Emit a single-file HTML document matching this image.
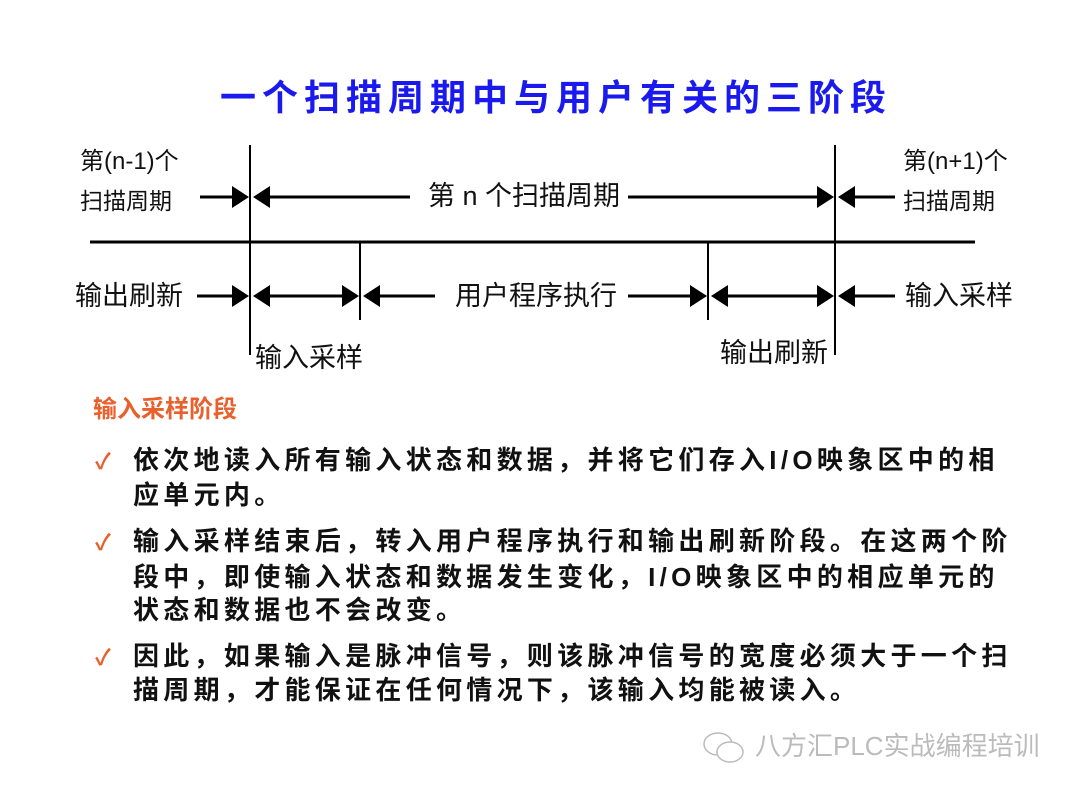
<!DOCTYPE html>
<html><head><meta charset="utf-8"><style>
body{margin:0;width:1080px;height:797px;background:#fff;position:relative;overflow:hidden;font-family:"Liberation Sans","Noto Sans CJK SC",sans-serif}
.t{position:absolute;white-space:nowrap;line-height:1}
.d{font-size:27px;color:#111}
.b{font-size:26px;font-weight:bold;color:#111;letter-spacing:4.3px}
.ck{position:absolute;color:#e8602c;font-size:22px;font-weight:bold}
</style></head><body>
<div class="t" style="left:220px;top:80px;font-size:36px;font-weight:bold;color:#1a1aee;letter-spacing:6px">一个扫描周期中与用户有关的三阶段</div>
<svg width="1080" height="400" style="position:absolute;left:0;top:0">
<g stroke="#000" stroke-width="2">
<line x1="250" y1="145" x2="250" y2="355"/>
<line x1="835" y1="145" x2="835" y2="355"/>
<line x1="360" y1="242" x2="360" y2="320"/>
<line x1="708" y1="242" x2="708" y2="320"/>
</g>
<line x1="90" y1="242" x2="975" y2="242" stroke="#000" stroke-width="3"/>
<g stroke="#000" stroke-width="3">
<line x1="200" y1="197" x2="240" y2="197"/><line x1="260" y1="197" x2="410" y2="197"/>
<line x1="628" y1="197" x2="825" y2="197"/><line x1="845" y1="197" x2="895" y2="197"/>
<line x1="197" y1="296" x2="240" y2="296"/><line x1="260" y1="296" x2="350" y2="296"/>
<line x1="370" y1="296" x2="435" y2="296"/>
<line x1="628" y1="296" x2="698" y2="296"/><line x1="718" y1="296" x2="825" y2="296"/>
<line x1="845" y1="296" x2="895" y2="296"/>
</g>
<g fill="#000">
<polygon points="232,186 249,197 232,208"/><polygon points="270,186 253,197 270,208"/>
<polygon points="817,186 834,197 817,208"/><polygon points="855,186 838,197 855,208"/>
<polygon points="232,285 249,296 232,307"/><polygon points="270,285 253,296 270,307"/>
<polygon points="342,285 359,296 342,307"/><polygon points="380,285 363,296 380,307"/>
<polygon points="690,285 707,296 690,307"/><polygon points="728,285 711,296 728,307"/>
<polygon points="817,285 834,296 817,307"/><polygon points="855,285 838,296 855,307"/>
</g>
</svg>
<div class="t d" style="left:80px;top:150px;font-size:24px">第(n-1)个</div>
<div class="t d" style="left:80px;top:190px;font-size:23px">扫描周期</div>
<div class="t d" style="left:903px;top:150px;font-size:24px">第(n+1)个</div>
<div class="t d" style="left:903px;top:190px;font-size:23px">扫描周期</div>
<div class="t d" style="left:428px;top:183px">第 n 个扫描周期</div>
<div class="t d" style="left:75px;top:283px">输出刷新</div>
<div class="t d" style="left:455px;top:283px">用户程序执行</div>
<div class="t d" style="left:905px;top:283px">输入采样</div>
<div class="t d" style="left:255px;top:345px">输入采样</div>
<div class="t d" style="left:720px;top:340px">输出刷新</div>
<div class="t" style="left:93px;top:398px;font-size:24px;font-weight:bold;color:#e8602c">输入采样阶段</div>
<div class="ck" style="left:95px;top:444px">✓</div>
<div class="ck" style="left:95px;top:525px">✓</div>
<div class="ck" style="left:95px;top:640px">✓</div>
<div class="t b" style="left:133px;top:447px">依次地读入所有输入状态和数据，并将它们存入I/O映象区中的相</div>
<div class="t b" style="left:133px;top:482px">应单元内。</div>
<div class="t b" style="left:133px;top:528px">输入采样结束后，转入用户程序执行和输出刷新阶段。在这两个阶</div>
<div class="t b" style="left:133px;top:564px">段中，即使输入状态和数据发生变化，I/O映象区中的相应单元的</div>
<div class="t b" style="left:133px;top:597px">状态和数据也不会改变。</div>
<div class="t b" style="left:133px;top:643px">因此，如果输入是脉冲信号，则该脉冲信号的宽度必须大于一个扫</div>
<div class="t b" style="left:133px;top:677px">描周期，才能保证在任何情况下，该输入均能被读入。</div>
<svg width="50" height="40" style="position:absolute;left:700px;top:728px" fill="none" stroke="#bbb" stroke-width="1.5">
<ellipse cx="18" cy="16" rx="14" ry="11"/><ellipse cx="30" cy="24" rx="13" ry="10" fill="#fff"/>
</svg>
<div class="t" style="left:755px;top:733px;font-size:26px;color:#bbb">八方汇PLC实战编程培训</div>
</body></html>
